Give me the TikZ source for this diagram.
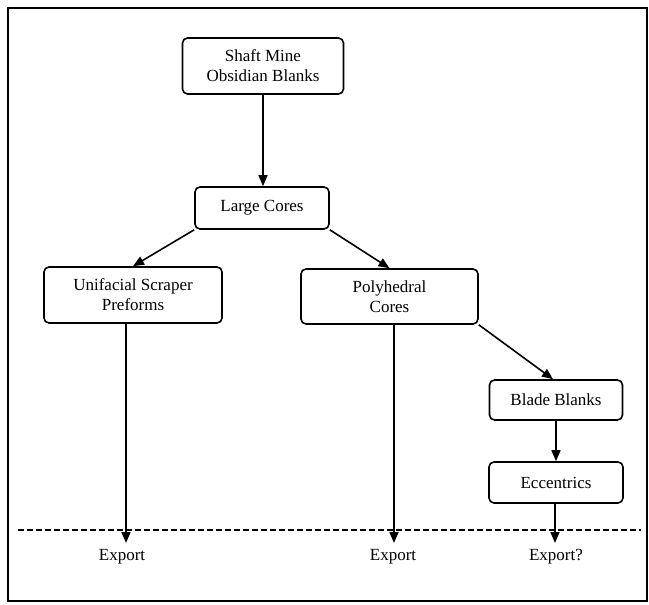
\documentclass[tikz,border=0pt]{standalone}
\usepackage{fontspec}
\setmainfont{Liberation Serif}
\usetikzlibrary{arrows.meta,calc}
\begin{document}
\begin{tikzpicture}[x=1pt,y=-1pt,
  line width=1.6pt,
  box/.style={draw, rounded corners=5pt, inner sep=0pt, align=center,
    font=\fontsize{17}{20}\selectfont},
  lbl/.style={inner sep=0pt, font=\fontsize{17}{20}\selectfont},
  arr/.style={-{Triangle[length=11pt,width=9pt]}},
  sep/.style={line width=1.2pt, dash pattern=on 6pt off 3pt}]
\useasboundingbox (0,0) rectangle (649,605);
\draw[line width=1.4pt] (8,8) rectangle (647,601);
\node[box, minimum width=161pt, minimum height=56pt] (shaft) at (263,66) {Shaft Mine\\Obsidian Blanks};
\node[box, minimum width=134pt, minimum height=42pt] (large) at (262,208) {Large Cores};
\node[box, minimum width=178pt, minimum height=56pt] (unif) at (133,295) {Unifacial Scraper\\Preforms};
\node[box, minimum width=177pt, minimum height=55pt] (poly) at (389.5,296.5) {Polyhedral\\Cores};
\node[box, minimum width=133pt, minimum height=40pt] (blade) at (556,400) {Blade Blanks};
\node[box, minimum width=134pt, minimum height=41pt] (ecc) at (556,482.5) {Eccentrics};
\node[lbl] (ex1) at (122,557) {Export};
\node[lbl] (ex2) at (393,557) {Export};
\node[lbl] (ex3) at (556,557) {Export?};
\coordinate (t1) at (126,543);
\coordinate (t2) at (394,543);
\coordinate (t3) at (555,543);
\coordinate (dl) at (18,530);
\coordinate (dr) at (641,530);
\draw[sep] (dl) -- (dr);
\draw[arr] (shaft.south) -- (shaft.south |- large.north);
\draw[arr] (large.south west) -- (unif.north);
\draw[arr] (large.south east) -- (poly.north);
\draw[arr] (poly.south east) -- ($(blade.north)+(-3,0)$);
\draw[arr] (blade.south) -- (ecc.north);
\draw[arr] (unif.south -| t1) -- (t1);
\draw[arr] (poly.south -| t2) -- (t2);
\draw[arr] (ecc.south -| t3) -- (t3);
\end{tikzpicture}
\end{document}
